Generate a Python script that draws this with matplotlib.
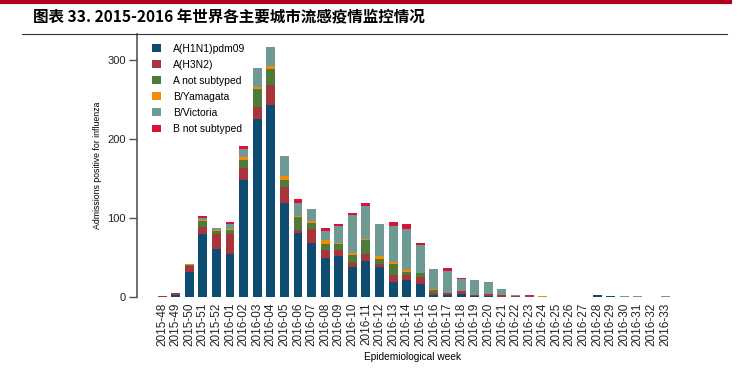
import matplotlib.pyplot as plt
import numpy as np

plt.rcParams['font.family'] = ['Liberation Sans', 'DejaVu Sans']

# epidemiological weeks
weeks = ['2015-48', '2015-49', '2015-50', '2015-51', '2015-52'] + \
        ['2016-%02d' % w for w in range(1, 34)]

# stacked series values (admissions)
h1n1 = [0, 2, 32, 80, 61, 54, 148, 225, 243, 119, 81, 69, 50, 52, 38, 45, 38, 19, 22, 17,
        2.5, 2, 4, 1, 1, 0, 0, 0, 0, 0, 0, 0, 2, 1.5, 0, 0, 0, 0]
h3n2 = [1.5, 2.5, 7, 8, 19, 26, 15, 16, 26, 20, 4, 17, 10, 8, 5, 9, 4, 8.5, 5.5, 8.5,
        3, 3, 3, 1.5, 2.5, 2, 1, 2.5, 0, 0, 0, 0, 0, 0, 0, 0, 0, 0]
a_nosub = [0, 1, 1, 8, 3.5, 5, 10, 22, 20, 9, 16, 8, 7, 7, 10, 18, 6, 14, 4, 4.5,
           3, 0, 0, 0, 0, 0, 0, 0, 0, 0, 0, 0, 0, 0, 0, 0, 0, 0]
b_yam = [0, 0, 2, 1.5, 1.5, 1.5, 4, 2.5, 3, 5, 1.5, 2, 5, 1.5, 3, 1.5, 4, 3, 3, 0,
         2, 0, 0, 0, 0, 0, 0, 0, 1.5, 0, 0, 0, 0, 0, 0, 0, 0, 0]
b_vic = [0, 0, 0, 2.5, 2, 5.5, 10, 24, 24, 25, 17, 15, 11, 22, 48, 42, 40, 45, 51, 36,
         24.5, 28, 15.5, 19, 15, 7.5, 1.5, 0, 0, 0, 0, 0, 0.5, 0, 1.2, 1.2, 0, 1.2]
b_nosub = [0, 0, 0, 2.5, 0, 3.5, 4, 0, 0, 0, 5, 0, 4, 2, 2, 4, 0, 5.5, 6.5, 3,
           0, 3.5, 2, 0, 0, 0, 0, 0.5, 0, 0, 0, 0, 0, 0, 0, 0, 0, 0]

series = [
    ('A(H1N1)pdm09', h1n1, '#0f4c72'),
    ('A(H3N2)', h3n2, '#a8343c'),
    ('A not subtyped', a_nosub, '#4f7b38'),
    ('B/Yamagata', b_yam, '#f28a0a'),
    ('B/Victoria', b_vic, '#6e9a93'),
    ('B not subtyped', b_nosub, '#d9123c'),
]

fig = plt.figure(figsize=(7.49, 3.83), dpi=100)
ax = fig.add_axes([137 / 749, 1 - 297 / 383, 553 / 749, (297 - 34) / 383])

x = np.arange(len(weeks))
bottom = np.zeros(len(weeks))
for name, vals, col in series:
    vals = np.array(vals, dtype=float)
    ax.bar(x, vals, 0.66, bottom=bottom, color=col, label=name, linewidth=0)
    bottom += vals

ax.set_xlim(-1.84, 38.83)
ax.set_ylim(0, 333)
ax.set_yticks([0, 100, 200, 300])
ax.set_xticks(x)
ax.set_xticklabels(weeks, rotation=90, fontsize=8.5, color='#222222')
ax.tick_params(axis='x', length=0, pad=4)
ax.tick_params(axis='y', length=6, width=1, color='#555555', labelsize=8, pad=2,
               labelcolor='#222222')
for s in ['top', 'right', 'bottom']:
    ax.spines[s].set_visible(False)
ax.spines['left'].set_color('#555555')
ax.spines['left'].set_linewidth(1.2)

ax.set_ylabel('Admissions positive for influenza', fontsize=6.3, labelpad=4)
fig.text(413 / 749, 1 - 357 / 383, 'Epidemiological week', fontsize=7.3,
         ha='center', va='center')

leg = ax.legend(loc='upper left', bbox_to_anchor=(0.01, 1.0), frameon=False,
                fontsize=7.5, handlelength=0.8, handleheight=0.8,
                handletextpad=1.15, labelspacing=0.58, borderaxespad=0.55)

# header: red band, title, rule
fig.add_artist(plt.Line2D([0, 730 / 749], [1 - 2 / 383, 1 - 2 / 383],
                          color='#b0001e', linewidth=3))
fig.text(33 / 749, 1 - 17 / 383, '图表 33. 2015-2016 年世界各主要城市流感疫情监控情况',
         fontsize=11.2, fontweight='bold', va='center',
         family=['Noto Sans CJK SC', 'DejaVu Sans'])
fig.add_artist(plt.Line2D([22 / 749, 727 / 749], [1 - 34 / 383, 1 - 34 / 383],
                          color='#333333', linewidth=0.8))

fig.savefig('out.png', dpi=100)
